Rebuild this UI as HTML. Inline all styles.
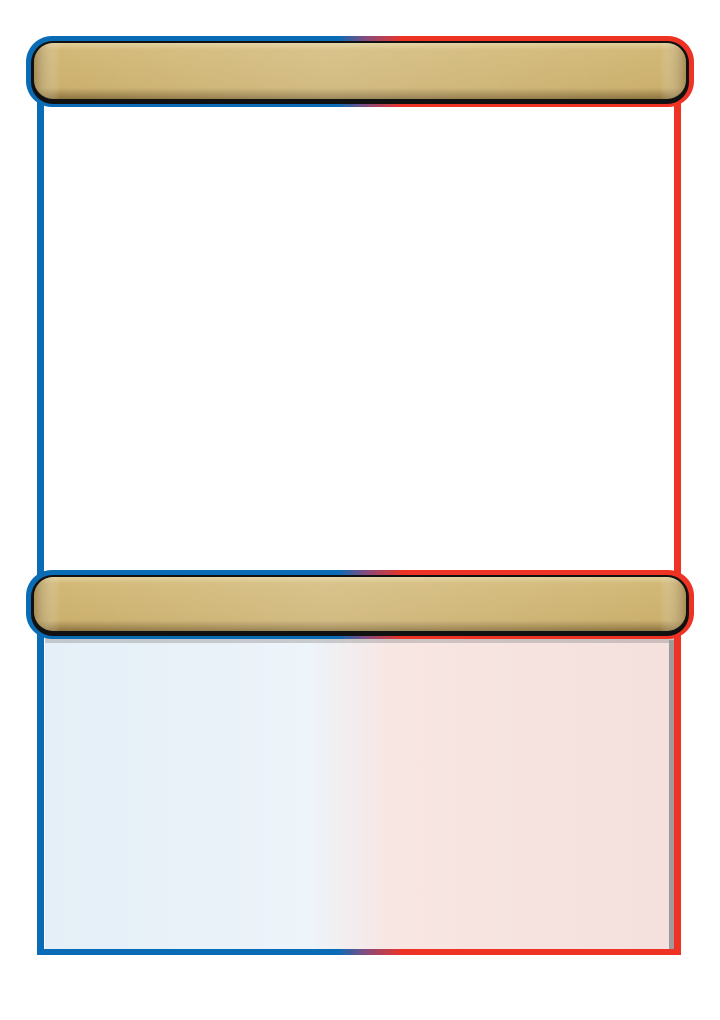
<!DOCTYPE html>
<html><head><meta charset="utf-8"><style>
html,body{margin:0;padding:0;background:#fff;width:720px;height:1020px;overflow:hidden}
</style></head><body>
<svg width="720" height="1020" viewBox="0 0 720 1020">
<defs>
<linearGradient id="edge" x1="0" x2="720" y1="0" y2="0" gradientUnits="userSpaceOnUse">
<stop offset="0.47" stop-color="#0a6cb5"/><stop offset="0.51" stop-color="#8a4a7a"/><stop offset="0.56" stop-color="#ee3324"/></linearGradient>
<linearGradient id="gold" x1="0" y1="0" x2="0" y2="1">
<stop offset="0" stop-color="#e2cf9a"/><stop offset="0.12" stop-color="#d3b978"/><stop offset="0.8" stop-color="#cbb06e"/><stop offset="1" stop-color="#8c7440"/></linearGradient>
<linearGradient id="goldh" x1="0" x2="1" y1="0" y2="0">
<stop offset="0" stop-color="#8a7240" stop-opacity="0.6"/><stop offset="0.04" stop-color="#fff" stop-opacity="0"/><stop offset="0.45" stop-color="#fff" stop-opacity="0.15"/><stop offset="0.96" stop-color="#fff" stop-opacity="0"/><stop offset="1" stop-color="#8a7240" stop-opacity="0.6"/></linearGradient>
<linearGradient id="panel" x1="0" x2="1" y1="0" y2="0">
<stop offset="0" stop-color="#e4eff7"/><stop offset="0.42" stop-color="#edf4fa"/><stop offset="0.55" stop-color="#f8e6e3"/><stop offset="1" stop-color="#f4e0dc"/></linearGradient>
</defs>
<g>
<rect x="37" y="90" width="7" height="865" fill="#0a6cb5"/>
<rect x="674" y="90" width="7" height="865" fill="#ee3324"/>
<rect x="37" y="949" width="644" height="6" fill="url(#edge)"/>
</g>
<rect x="45" y="637" width="629" height="312" fill="url(#panel)"/>
<rect x="669" y="640" width="5" height="309" fill="#8a8a8a" opacity="0.8"/>
<rect x="45" y="637" width="629" height="6" fill="#999" opacity="0.45"/>
<g>
<rect x="26" y="36" width="668" height="71" rx="26" fill="url(#edge)"/>
<rect x="31" y="41" width="658" height="63" rx="22" fill="#111"/>
<rect x="34" y="43" width="652" height="56" rx="19" fill="url(#gold)"/>
<rect x="34" y="43" width="652" height="56" rx="19" fill="url(#goldh)"/>
</g>
<g>
<rect x="26" y="570" width="668" height="69" rx="26" fill="url(#edge)"/>
<rect x="31" y="575" width="658" height="61" rx="22" fill="#111"/>
<rect x="34" y="577" width="652" height="54" rx="19" fill="url(#gold)"/>
<rect x="34" y="577" width="652" height="54" rx="19" fill="url(#goldh)"/>
</g>
</svg>
</body></html>
